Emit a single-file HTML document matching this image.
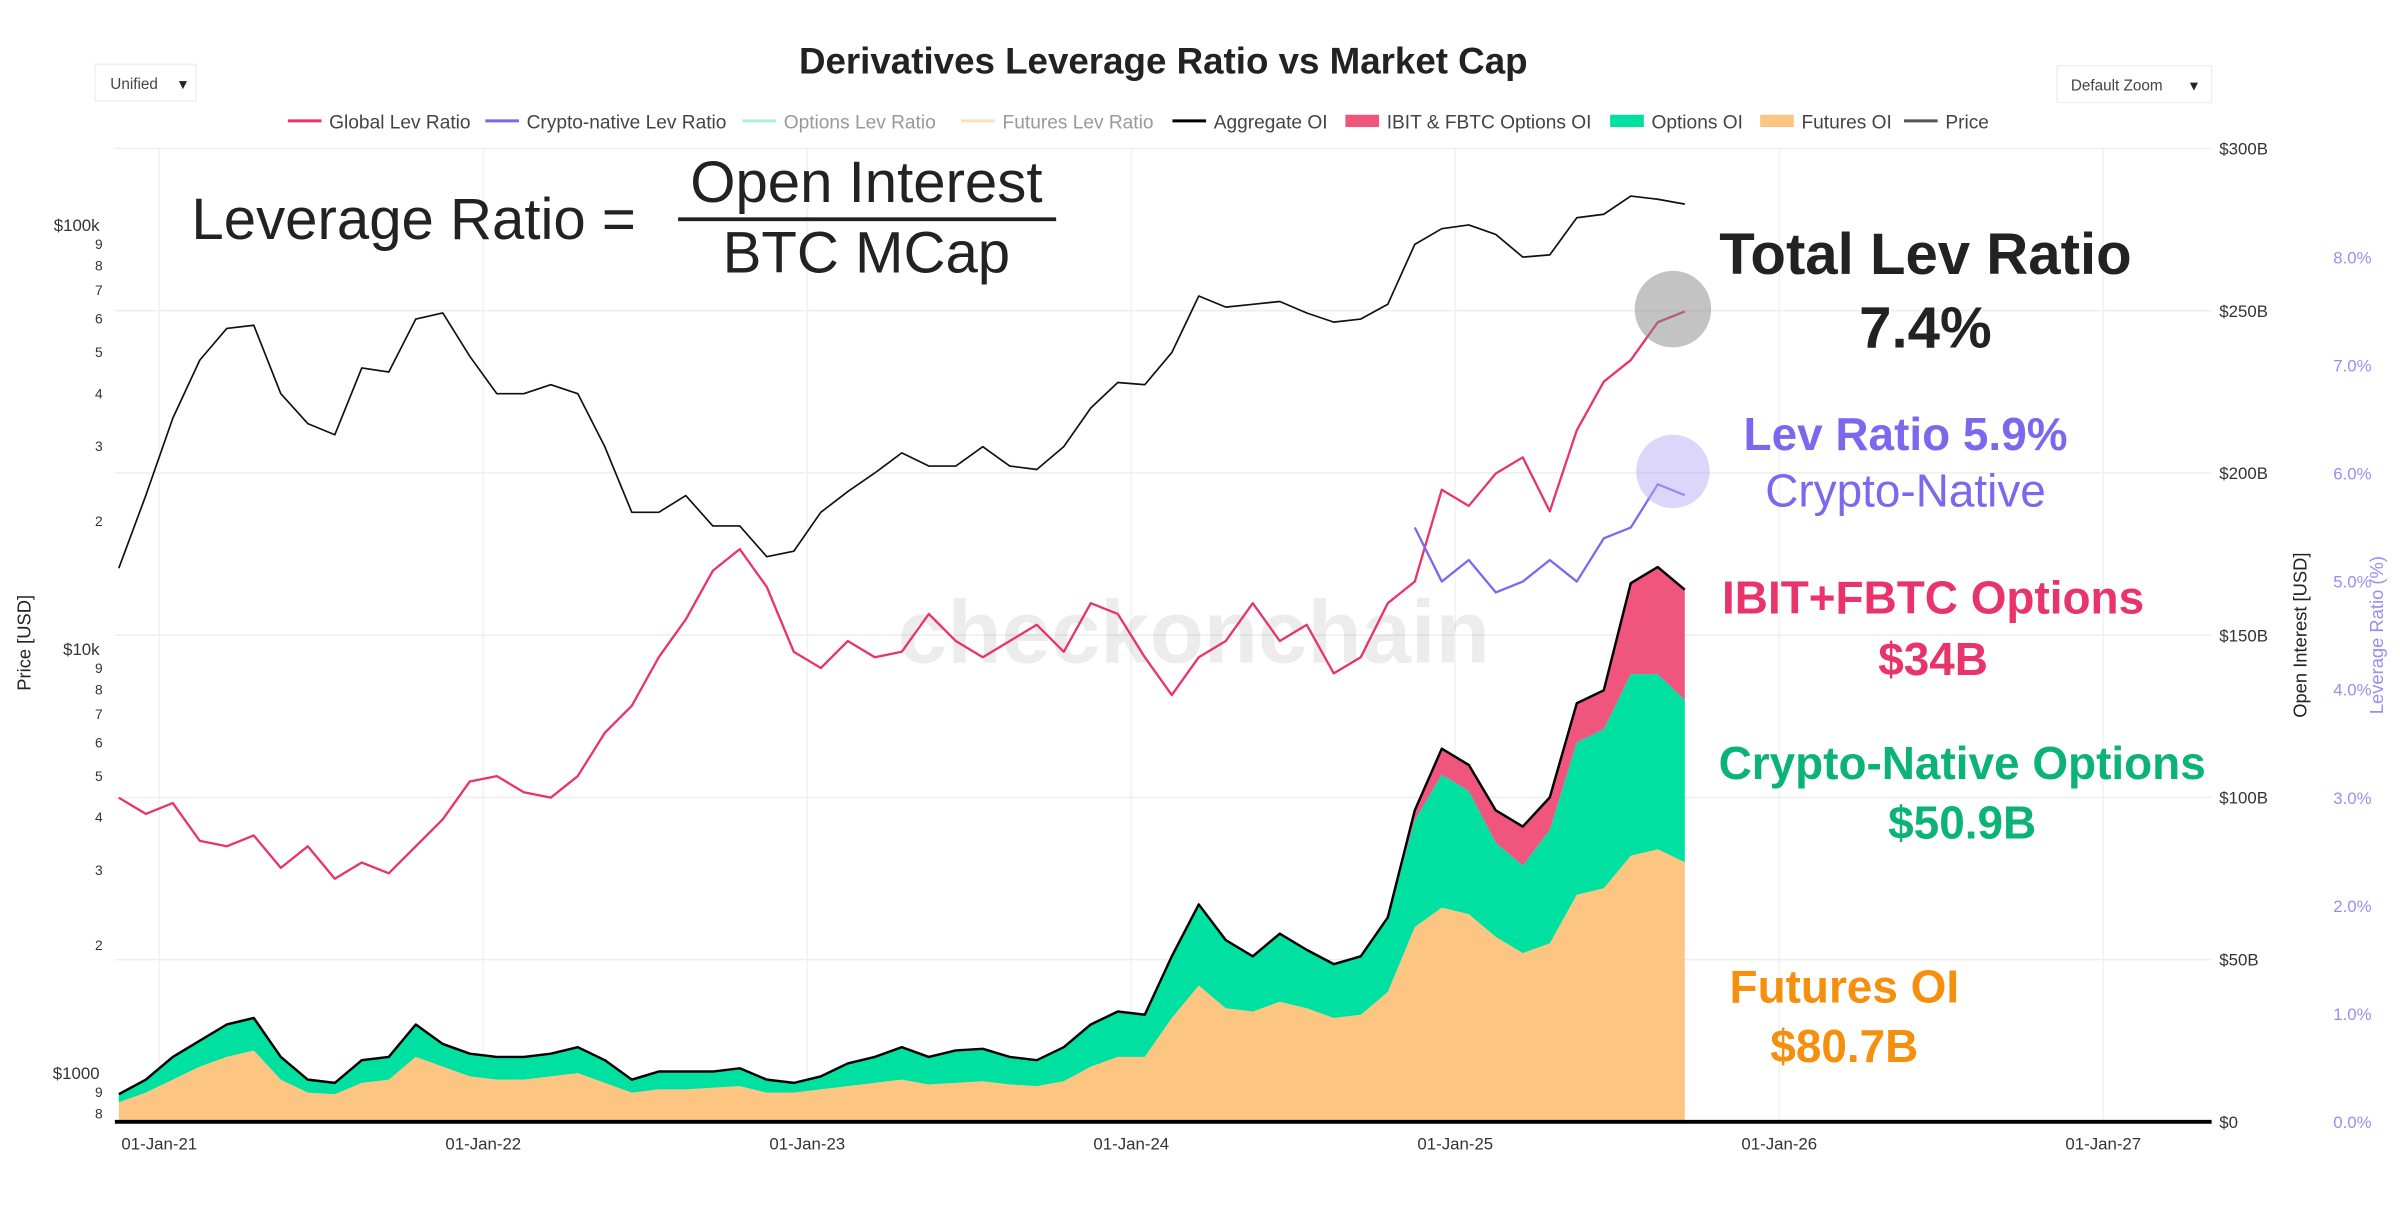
<!DOCTYPE html>
<html><head><meta charset="utf-8">
<style>
html,body{margin:0;padding:0;background:#fff;}
svg{display:block;font-family:"Liberation Sans",sans-serif;}
</style></head>
<body>
<svg id="chart" width="2400" height="1206" viewBox="0 0 1568 788" xmlns="http://www.w3.org/2000/svg">
<rect width="1568" height="788" fill="#fff"/>
<text x="760" y="48" text-anchor="middle" font-size="24" font-weight="bold" fill="#222">Derivatives Leverage Ratio vs Market Cap</text>
<g><rect x="62" y="42" width="66" height="24" fill="#fff" stroke="#f0f0f0"/><text x="72" y="58" font-size="10" fill="#444">Unified</text><text x="115" y="58" font-size="9" fill="#222">▼</text></g>
<g><rect x="1344" y="43" width="101" height="24" fill="#fff" stroke="#f0f0f0"/><text x="1353" y="59" font-size="10" fill="#444">Default Zoom</text><text x="1429" y="59" font-size="9" fill="#222">▼</text></g>
<g id="grid"></g>
<g id="legend" font-size="12.5"></g>
<text x="780" y="433" text-anchor="middle" font-size="58" font-weight="bold" fill="#000" opacity="0.07">checkonchain</text>
<g id="marks"></g>
<g id="axes" font-size="11" fill="#333"></g>
<g fill="#222" font-weight="300">
<text x="125" y="156" font-size="38">Leverage Ratio =</text>
<text x="566" y="132" font-size="38" text-anchor="middle">Open Interest</text>
<rect x="443" y="142" width="247" height="2.5" fill="#222"/>
<text x="566" y="178" font-size="38" text-anchor="middle">BTC MCap</text>
</g>
<circle cx="1093" cy="202" r="25" fill="#888" opacity="0.5"/>
<circle cx="1093" cy="308" r="24" fill="#b9aef5" opacity="0.5"/>
<g font-weight="bold" text-anchor="middle">
<text x="1258" y="179" font-size="38" fill="#222">Total Lev Ratio</text>
<text x="1258" y="227" font-size="38" fill="#222">7.4%</text>
<text x="1245" y="294" font-size="30" fill="#7b68ee">Lev Ratio 5.9%</text>
<text x="1245" y="331" font-size="30" font-weight="normal" fill="#7b68ee">Crypto-Native</text>
<text x="1263" y="401" font-size="30" fill="#e8336b">IBIT+FBTC Options</text>
<text x="1263" y="441" font-size="30" fill="#e8336b">$34B</text>
<text x="1282" y="509" font-size="30" fill="#0bb377">Crypto-Native Options</text>
<text x="1282" y="548" font-size="30" fill="#0bb377">$50.9B</text>
<text x="1205" y="655" font-size="30" fill="#f5900f">Futures OI</text>
<text x="1205" y="694" font-size="30" fill="#f5900f">$80.7B</text>
</g>
</svg>
<script>
const months=["2020-11","2020-12","2021-01","2021-02","2021-03","2021-04","2021-05","2021-06","2021-07","2021-08","2021-09","2021-10","2021-11","2021-12","2022-01","2022-02","2022-03","2022-04","2022-05","2022-06","2022-07","2022-08","2022-09","2022-10","2022-11","2022-12","2023-01","2023-02","2023-03","2023-04","2023-05","2023-06","2023-07","2023-08","2023-09","2023-10","2023-11","2023-12","2024-01","2024-02","2024-03","2024-04","2024-05","2024-06","2024-07","2024-08","2024-09","2024-10","2024-11","2024-12","2025-01","2025-02","2025-03","2025-04","2025-05","2025-06","2025-07","2025-08","2025-09"];
const price=[15500,23000,35000,48000,57000,58000,40000,34000,32000,46000,45000,60000,62000,49000,40000,40000,42000,40000,30000,21000,21000,23000,19500,19500,16500,17000,21000,23500,26000,29000,27000,27000,30000,27000,26500,30000,37000,42500,42000,50000,68000,64000,65000,66000,62000,59000,60000,65000,90000,98000,100000,95000,84000,85000,104000,106000,117000,115000,112000];
const futuresOI=[6,9,13,17,20,22,13,9,8.5,12,13,20,17,14,13,13,14,15,12,9,10,10,10.5,11,9,9,10,11,12,13,11.5,12,12.5,11.5,11,12.5,17,20,20,32,42,35,34,37,35,32,33,40,60,66,64,57,52,55,70,72,82,84,80];
const optionsOI=[2.5,4,7,8,10,10,7,4,3.5,7,7,10,7,7,7,7,7,8,7,4,5.5,5.5,5,5.5,4,3,4,7,8,10,8.5,10,10,8.5,8,10.5,13,14,13,19,25,21,17,21,18,16.6,18,23,33,41,38,29,27,35,47,49,56,54,50];
const ibitOI=[0,0,0,0,0,0,0,0,0,0,0,0,0,0,0,0,0,0,0,0,0,0,0,0,0,0,0,0,0,0,0,0,0,0,0,0,0,0,0,0,0,0,0,0,0,0,0,0,3,8,8,10,12,10,12,12,28,33,34];
const globalLev=[3.0,2.85,2.95,2.6,2.55,2.65,2.35,2.55,2.25,2.4,2.3,2.55,2.8,3.15,3.2,3.05,3.0,3.2,3.6,3.85,4.3,4.65,5.1,5.3,4.95,4.35,4.2,4.45,4.3,4.35,4.7,4.45,4.3,4.45,4.6,4.35,4.8,4.7,4.3,3.95,4.3,4.45,4.8,4.45,4.6,4.15,4.3,4.8,5.0,5.85,5.7,6.0,6.15,5.65,6.4,6.85,7.05,7.4,7.5];
const nativeStart=48;
const nativeLev=[5.5,5.0,5.2,4.9,5.0,5.2,5.0,5.4,5.5,5.9,5.8];
const dateTicks=["01-Jan-21","01-Jan-22","01-Jan-23","01-Jan-24","01-Jan-25","01-Jan-26","01-Jan-27"];
const oiTicks=[0,50,100,150,200,250,300];
const levTicks=[0,1,2,3,4,5,6,7,8];
const NS="http://www.w3.org/2000/svg";
const X0=75,X1=1445;
function xYear(y){return 104+(y-2021)*211.7;}
function xMonth(m){const [y,mo]=m.split("-").map(Number);return xYear(y+(mo-1+0.5)/12);}
function yOI(v){return 733-v*106/50;}
function yLev(v){return 733-v*70.6;}
function yPrice(p){return 701-(Math.log10(p)-3)*277;}
function mk(tag,attrs,parent){const e=document.createElementNS(NS,tag);for(const k in attrs)e.setAttribute(k,attrs[k]);parent.appendChild(e);return e;}
const grid=document.getElementById("grid"),marks=document.getElementById("marks"),axes=document.getElementById("axes"),legend=document.getElementById("legend");
oiTicks.forEach(v=>{if(v===0)return;const l=mk("line",{x1:X0,x2:X1,y1:yOI(v),y2:yOI(v),stroke:"#eee"},grid);

});
dateTicks.forEach((d,i)=>{const l=mk("line",{x1:xYear(2021+i),x2:xYear(2021+i),y1:97,y2:733,stroke:"#f2f2f2"},grid);

});
const n=months.length;const xs=months.map(xMonth);
function area(lo,hi,fill,name){let d="M"+xs[0]+","+yOI(lo[0]);for(let i=0;i<n;i++)d+="L"+xs[i]+","+yOI(hi[i]);for(let i=n-1;i>=0;i--)d+="L"+xs[i]+","+yOI(lo[i]);
const p=mk("path",{d:d+"Z",fill:fill},marks);

}
const zero=months.map(()=>0);
const fTop=futuresOI.slice();
const oTop=futuresOI.map((v,i)=>v+optionsOI[i]);
const aTop=oTop.map((v,i)=>v+ibitOI[i]);
area(zero,fTop,"#fdc582","futures-oi-area");
area(fTop,oTop,"#00e0a0","options-oi-area");
area(oTop,aTop,"#f0557d","ibit-options-area");
function line(xa,ya,color,w,name){const p=mk("polyline",{points:xa.map((x,i)=>x+","+ya[i]).join(" "),fill:"none",stroke:color,"stroke-width":w,"stroke-linejoin":"round"},marks);

}
line(xs,aTop.map(yOI),"#000",1.6,"aggregate-oi-line");
line(xs,globalLev.map(yLev),"#e8336b",1.5,"global-lev-line");
line(xs.slice(nativeStart),nativeLev.map(yLev),"#7b68ee",1.5,"native-lev-line");
line(xs,price.map(yPrice),"#111",1.1,"price-line");
const ax=mk("line",{x1:X0,x2:X1,y1:733,y2:733,stroke:"#000","stroke-width":2.5},axes);


dateTicks.forEach((d,i)=>{const t=mk("text",{x:xYear(2021+i),y:751,"text-anchor":"middle"},axes);t.textContent=d;

});
oiTicks.forEach(v=>{const t=mk("text",{x:1450,y:yOI(v)+4},axes);t.textContent=v===0?"$0":"$"+v+"B";

});
levTicks.forEach(v=>{const t=mk("text",{x:1537,y:yLev(v)+4,"text-anchor":"middle",fill:"#9b8cf2"},axes);t.textContent=v.toFixed(1)+"%";

});
[1000,10000,100000].forEach(b=>{const t=mk("text",{x:65,y:yPrice(b)+4,"text-anchor":"end"},axes);t.textContent=b===1000?"$1000":b===10000?"$10k":"$100k";

});
[[100,9],[100,8],[1000,2],[1000,3],[1000,4],[1000,5],[1000,6],[1000,7],[1000,8],[1000,9],[10000,2],[10000,3],[10000,4],[10000,5],[10000,6],[10000,7],[10000,8],[10000,9]].forEach(([b,m])=>{const t=mk("text",{x:67,y:yPrice(b*m)+3,"text-anchor":"end","font-size":9},axes);t.textContent=m;

});
function rot(txt,x,y,color,name){const t=mk("text",{x:x,y:y,transform:"rotate(-90 "+x+" "+y+")","text-anchor":"middle","font-size":12,fill:color},axes);t.textContent=txt;

}
rot("Price [USD]",20,420,"#222","price-axis-title");
rot("Open Interest [USD]",1507,415,"#222","oi-axis-title");
rot("Leverage Ratio (%)",1557,415,"#9b8cf2","lev-axis-title");
const legItems=[["Global Lev Ratio","#e8336b","line","#444"],["Crypto-native Lev Ratio","#7b68ee","line","#444"],["Options Lev Ratio","#aaf0dc","line","#999"],["Futures Lev Ratio","#fde0bc","line","#999"],["Aggregate OI","#000","line","#444"],["IBIT & FBTC Options OI","#f0557d","box","#444"],["Options OI","#00e0a0","box","#444"],["Futures OI","#fdc582","box","#444"],["Price","#555","line","#444"]];
const legW=[129,168,143,138,113,173,98,94,55];
let lx=188;
legItems.forEach((it,i)=>{
 const g=mk("g",{},legend);
 
 
 if(it[2]==="line")mk("line",{x1:lx,x2:lx+22,y1:79,y2:79,stroke:it[1],"stroke-width":2},g);
 else mk("rect",{x:lx,y:75,width:22,height:8,fill:it[1]},g);
 const t=mk("text",{x:lx+27,y:84,fill:it[3]},g);t.textContent=it[0];
 lx+=legW[i];
});
</script>
</body></html>
